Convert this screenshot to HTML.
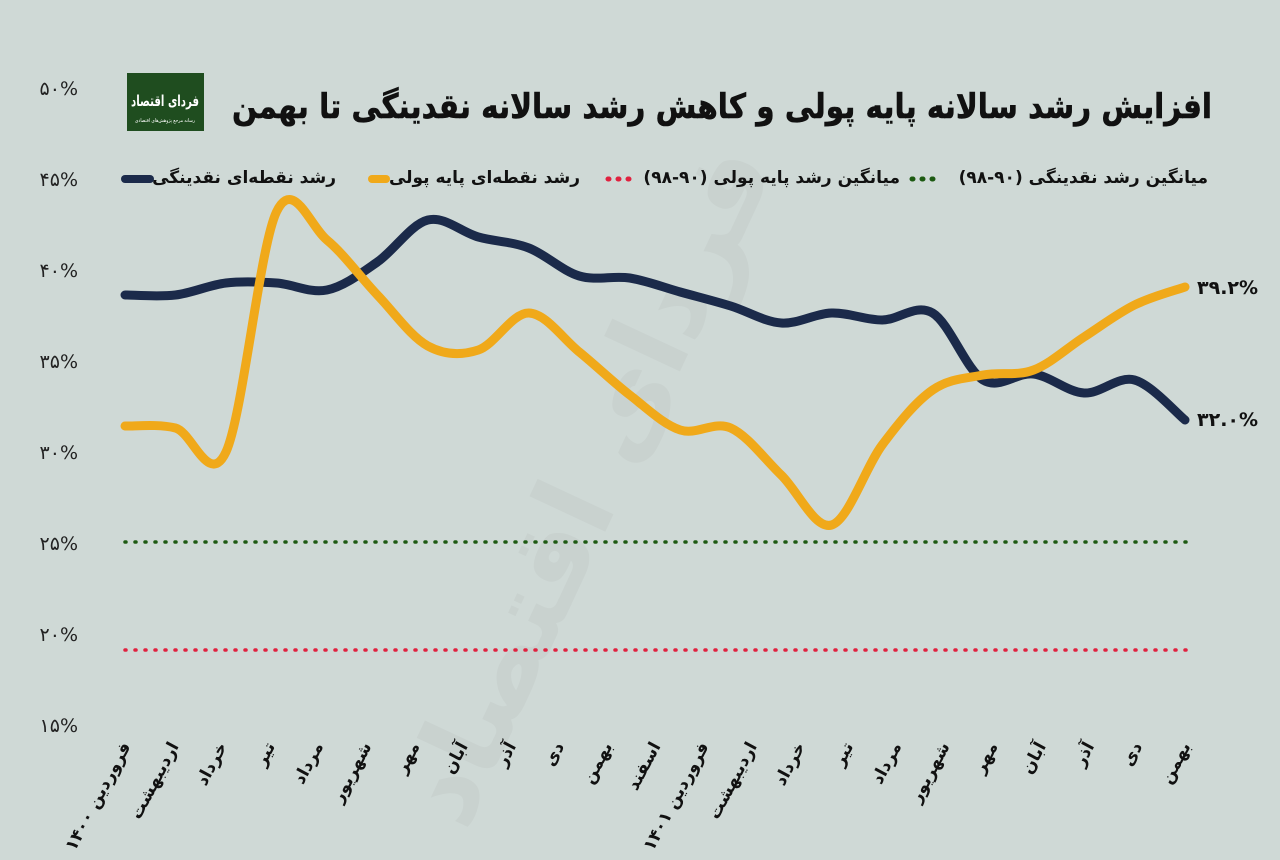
<!DOCTYPE html>
<html><head><meta charset="utf-8">
<style>
html,body{margin:0;padding:0;background:#cfd9d6;}
body{width:1280px;height:860px;overflow:hidden;position:relative;font-family:"Liberation Sans","DejaVu Sans",sans-serif;}
svg{position:absolute;left:0;top:0}
</style></head><body>
<svg id="s" width="1280" height="860" xmlns="http://www.w3.org/2000/svg">
<rect width="1280" height="860" fill="#cfd9d6"/>
<text x="620" y="500" font-size="110" fill="#c9d2cf" text-anchor="middle" transform="rotate(-65 620 500)" font-family="DejaVu Sans,sans-serif" font-weight="bold">فردای اقتصاد</text>
<rect x="127" y="73" width="77" height="58" fill="#1f4d1f"/>
<text x="165" y="106" font-size="15" fill="#fff" text-anchor="middle" font-weight="bold" font-family="DejaVu Sans,sans-serif" textLength="68" lengthAdjust="spacingAndGlyphs">فردای اقتصاد</text>
<text x="165" y="122" font-size="5" fill="#fff" text-anchor="middle" font-family="DejaVu Sans,sans-serif" textLength="60" lengthAdjust="spacingAndGlyphs">رسانه مرجع پژوهش‌های اقتصادی</text>
<text x="1212" y="118" font-size="34" font-weight="bold" fill="#111" text-anchor="start" font-family="DejaVu Sans,sans-serif" direction="rtl" textLength="980" lengthAdjust="spacingAndGlyphs" stroke="#111" stroke-width="0.6">افزایش رشد سالانه پایه پولی و کاهش رشد سالانه نقدینگی تا بهمن</text>
<g font-family="DejaVu Sans,sans-serif" font-size="17" fill="#111" font-weight="bold" direction="rtl">
<text x="1208" y="183" text-anchor="start">میانگین رشد نقدینگی (۹۰-۹۸)</text>
<text x="900" y="183" text-anchor="start">میانگین رشد پایه پولی (۹۰-۹۸)</text>
<text x="580" y="183" text-anchor="start">رشد نقطه‌ای پایه پولی</text>
<text x="336" y="183" text-anchor="start">رشد نقطه‌ای نقدینگی</text>
</g>
<line x1="912" y1="179" x2="936" y2="179" stroke="#1d5a12" stroke-width="5" stroke-dasharray="1 9" stroke-linecap="round"/>
<line x1="608" y1="179" x2="632" y2="179" stroke="#e0213f" stroke-width="5" stroke-dasharray="1 9" stroke-linecap="round"/>
<line x1="372" y1="179" x2="386" y2="179" stroke="#f0a91a" stroke-width="8" stroke-linecap="round"/>
<line x1="125" y1="179" x2="150" y2="179" stroke="#1b2a4a" stroke-width="8" stroke-linecap="round"/>
<g id="yl" font-family="DejaVu Sans,sans-serif" font-size="19" fill="#222" text-anchor="end"></g>
<line x1="125" y1="542" x2="1190" y2="542" stroke="#1d5a12" stroke-width="3.5" stroke-dasharray="1 9" stroke-linecap="round"/>
<line x1="125" y1="650" x2="1190" y2="650" stroke="#e0213f" stroke-width="3.5" stroke-dasharray="1 9" stroke-linecap="round"/>
<path id="navy" fill="none" stroke="#1b2a4a" stroke-width="9" stroke-linecap="round" stroke-linejoin="round"/>
<path id="orng" fill="none" stroke="#f0a91a" stroke-width="9" stroke-linecap="round" stroke-linejoin="round"/>
<text x="1197" y="426" font-size="19" fill="#111" font-weight="bold" font-family="DejaVu Sans,sans-serif">۳۲.۰%</text>
<text x="1197" y="294" font-size="19" fill="#111" font-weight="bold" font-family="DejaVu Sans,sans-serif">۳۹.۲%</text>
<g id="xl" font-family="DejaVu Sans,sans-serif" font-size="17" font-weight="bold" fill="#111"></g>
</svg>
<script>
var ns="http://www.w3.org/2000/svg",s=document.getElementById('s');
var yl=document.getElementById('yl'),fa=['۵۰','۴۵','۴۰','۳۵','۳۰','۲۵','۲۰','۱۵'];
for(var i=0;i<8;i++){var t=document.createElementNS(ns,'text');t.setAttribute('x',78);t.setAttribute('y',95+i*91);t.textContent=fa[i]+'%';yl.appendChild(t);}
function path(p){var d='M'+p[0][0]+','+p[0][1];for(var i=0;i<p.length-1;i++){var p0=p[i-1]||p[i],p1=p[i],p2=p[i+1],p3=p[i+2]||p2;
d+=' C'+(p1[0]+(p2[0]-p0[0])/6)+','+(p1[1]+(p2[1]-p0[1])/6)+' '+(p2[0]-(p3[0]-p1[0])/6)+','+(p2[1]-(p3[1]-p1[1])/6)+' '+p2[0]+','+p2[1];}return d;}
var X=function(i){return 125+i*50.476};
var nv=[295,295,283,283,290,262,220,237,248,276,278,292,306,323,313,320,313,380,374,393,380,420];
var og=[426,428,452,212,240,295,346,350,313,352,395,430,428,475,525,445,390,375,370,337,305,287];
document.getElementById('navy').setAttribute('d',path(nv.map(function(v,i){return[X(i),v]})));
document.getElementById('orng').setAttribute('d',path(og.map(function(v,i){return[X(i),v]})));
var labs=['فروردین ۱۴۰۰','اردیبهشت','خرداد','تیر','مرداد','شهریور','مهر','آبان','آذر','دی','بهمن','اسفند','فروردین ۱۴۰۱','اردیبهشت','خرداد','تیر','مرداد','شهریور','مهر','آبان','آذر','دی','بهمن'];
var xl=document.getElementById('xl');
for(var i=0;i<labs.length;i++){var t=document.createElementNS(ns,'text');var x=125+i*48.18+6,y=746;t.setAttribute('x',x);t.setAttribute('y',y);t.setAttribute('text-anchor','end');t.setAttribute('transform','rotate(-62 '+x+' '+y+')');t.textContent=labs[i];xl.appendChild(t);}
</script>
</body></html>
